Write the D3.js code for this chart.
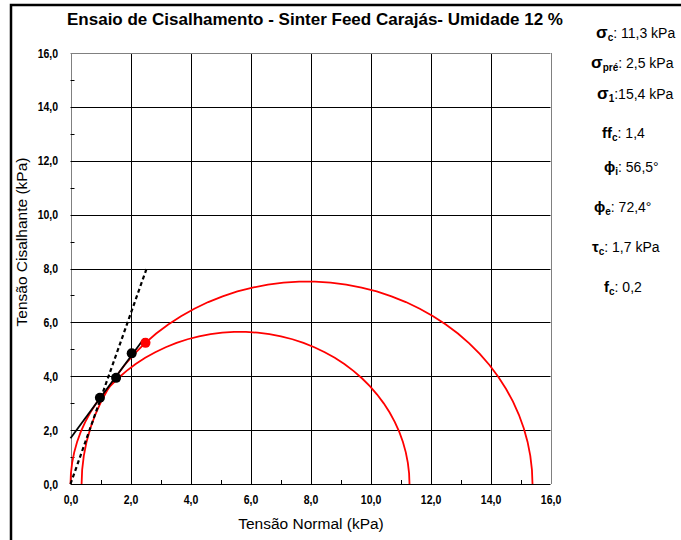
<!DOCTYPE html>
<html>
<head>
<meta charset="utf-8">
<script src="https://cdn.jsdelivr.net/npm/d3@7/dist/d3.min.js"></script>
<style>
  html, body { margin: 0; padding: 0; background: #fff; }
  svg { display: block; }
  text { font-family: "Liberation Sans", Arial, sans-serif; }
</style>
</head>
<body>
<svg id="chart" width="681" height="540"></svg>
<script>
// Shear test results (kPa)
const sigmaPoints = [0.98, 1.52, 2.04];      // normal stress of shear points
const tauPoints   = [3.2, 3.94, 4.85];       // shear stress of shear points
const preSigma = 2.5;                        // pre-shear point
const preTau   = 5.24;
const tauC = 1.7;                            // cohesion
const phiI = 56.5;                           // internal friction angle (deg)
const phiE = 72.4;                           // effective friction angle (deg)
const yieldEnd = 2.45;                       // end of yield locus (σ)
const effEnd = 2.53;                         // end of effective yield locus (σ)
// Mohr circles as [σ min, σ max]
const circleUnconfined = [0, 11.3];
const circleConsolidation = [0.37, 15.4];
const axisTicks = [0, 2, 4, 6, 8, 10, 12, 14, 16];
const minorTicks = [1, 3, 5, 7, 9, 11, 13, 15];
// Side annotations: symbol, subscript, value text
const notes = [
  { sym: "σ", sub: "c",   val: ": 11,3 kPa" },
  { sym: "σ", sub: "pré", val: ": 2,5 kPa" },
  { sym: "σ", sub: "1",   val: ":15,4 kPa" },
  { sym: "ff", sub: "c",  val: ": 1,4" },
  { sym: "ϕ", sub: "i",   val: ": 56,5°" },
  { sym: "ϕ", sub: "e",   val: ": 72,4°" },
  { sym: "τ", sub: "c",   val: ": 1,7 kPa" },
  { sym: "f", sub: "c",   val: ": 0,2" }
];
const noteX = [596, 591, 597, 602, 604, 594, 592, 604];
const noteY = [38, 68, 99, 138, 172, 212, 252, 292];

const svg = d3.select("#chart");
const x = d3.scaleLinear().domain([0, 16]).range([70.5, 550.5]);
const y = d3.scaleLinear().domain([0, 16]).range([484, 53]);
const fmt = d => d.toFixed(1).replace(".", ",");

// outer frame
svg.append("rect").attr("x", 11).attr("y", 5).attr("width", 720).attr("height", 600)
  .attr("fill", "#fff").attr("stroke", "#000").attr("stroke-width", 2.5);

// title
svg.append("text").attr("x", 315).attr("y", 25).attr("text-anchor", "middle")
  .attr("font-size", 17).attr("font-weight", "bold")
  .text("Ensaio de Cisalhamento - Sinter Feed Carajás- Umidade 12 %");

// grid
const grid = svg.append("g");
grid.selectAll("line.v").data(axisTicks).join("line")
  .attr("x1", d => Math.round(x(d)) + 0.5).attr("x2", d => Math.round(x(d)) + 0.5)
  .attr("y1", y(16)).attr("y2", y(0))
  .attr("stroke", d => (d === 0 || d === 16) ? "#808080" : "#000").attr("stroke-width", 1);
grid.selectAll("line.h").data(axisTicks).join("line")
  .attr("y1", d => Math.round(y(d)) + 0.5).attr("y2", d => Math.round(y(d)) + 0.5)
  .attr("x1", x(0)).attr("x2", x(16))
  .attr("stroke", d => d === 16 ? "#808080" : "#000").attr("stroke-width", 1);

// axes with minor ticks pointing inward
const xAxis = svg.append("g").attr("transform", `translate(0,${Math.round(y(0)) + 0.5})`)
  .call(d3.axisBottom(x).tickValues(axisTicks).tickFormat(fmt).tickSize(0).tickPadding(11));
const yAxis = svg.append("g").attr("transform", `translate(${Math.round(x(0)) + 0.5},0)`)
  .call(d3.axisLeft(y).tickValues(axisTicks).tickFormat(fmt).tickSize(0).tickPadding(16));
[xAxis, yAxis].forEach(a => {
  a.select(".domain").remove();
  a.selectAll("text").attr("font-family", "'Liberation Sans', Arial, sans-serif")
    .attr("font-weight", "bold").attr("font-size", 12.5).attr("fill", "#000")
    .attr("transform", "scale(0.84,1)");
});
svg.append("g").selectAll("line").data(minorTicks).join("line")
  .attr("x1", d => Math.round(x(d)) + 0.5).attr("x2", d => Math.round(x(d)) + 0.5)
  .attr("y1", y(0)).attr("y2", y(0) - 4).attr("stroke", "#000");
svg.append("g").selectAll("line").data(minorTicks).join("line")
  .attr("y1", d => Math.round(y(d)) + 0.5).attr("y2", d => Math.round(y(d)) + 0.5)
  .attr("x1", x(0)).attr("x2", x(0) + 4).attr("stroke", "#000");

// axis titles
svg.append("text").attr("x", 311).attr("y", 529).attr("text-anchor", "middle")
  .attr("font-size", 15.5).text("Tensão Normal (kPa)");
svg.append("text").attr("transform", "translate(27,242) rotate(-90)").attr("text-anchor", "middle")
  .attr("font-size", 15.5).text("Tensão Cisalhante (kPa)");

// Mohr circles
const line = d3.line().x(d => x(d[0])).y(d => y(d[1]));
function mohr([lo, hi]) {
  const c = (lo + hi) / 2, r = (hi - lo) / 2;
  return d3.range(0, 181, 4).map(a => {
    const t = a * Math.PI / 180;
    return [c - r * Math.cos(t), r * Math.sin(t)];
  });
}
[circleUnconfined, circleConsolidation].forEach(cc => {
  svg.append("path").datum(mohr(cc)).attr("d", line)
    .attr("fill", "none").attr("stroke", "#ff0000").attr("stroke-width", 1.8);
});

// effective yield locus (dashed, through origin)
const tanE = Math.tan(phiE * Math.PI / 180);
svg.append("path").datum([[0, 0], [effEnd, effEnd * tanE]]).attr("d", line)
  .attr("fill", "none").attr("stroke", "#000").attr("stroke-width", 2.2)
  .attr("stroke-dasharray", "4,3");

// yield locus
const tanI = Math.tan(phiI * Math.PI / 180);
svg.append("path").datum([[0, tauC], [yieldEnd, tauC + yieldEnd * tanI]]).attr("d", line)
  .attr("fill", "none").attr("stroke", "#000").attr("stroke-width", 1.8);

// shear points
svg.append("g").selectAll("circle").data(sigmaPoints.map((s, i) => [s, tauPoints[i]])).join("circle")
  .attr("cx", d => x(d[0])).attr("cy", d => y(d[1])).attr("r", 5).attr("fill", "#000");
svg.append("circle").attr("cx", x(preSigma)).attr("cy", y(preTau)).attr("r", 5).attr("fill", "#ff0000");

// side annotations
const ng = svg.append("g");
notes.forEach((n, i) => {
  const t = ng.append("text").attr("x", noteX[i]).attr("y", noteY[i]).attr("font-size", 14);
  t.append("tspan").attr("font-weight", "bold").attr("font-size", n.sym === "σ" ? 17 : 15).text(n.sym);
  t.append("tspan").attr("font-weight", "bold").attr("font-size", 10).attr("dy", 3).text(n.sub);
  t.append("tspan").attr("dy", -3).text(n.val);
});
</script>
</body>
</html>
